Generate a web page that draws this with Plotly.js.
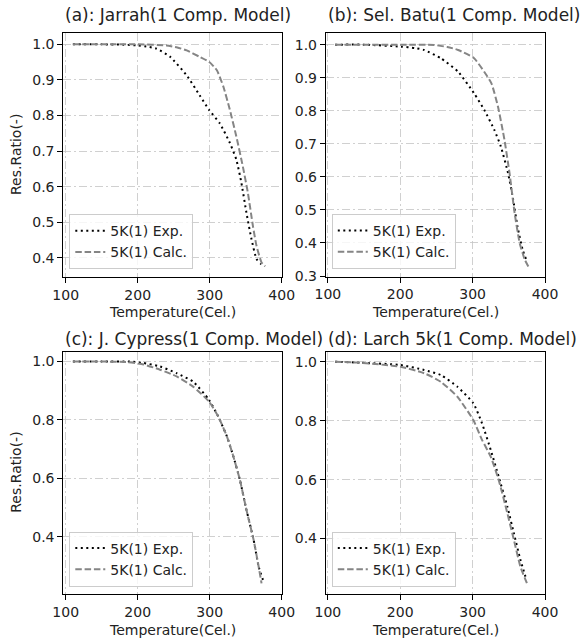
<!DOCTYPE html>
<html>
<head>
<meta charset="utf-8">
<script src="https://cdn.plot.ly/plotly-3.0.1.min.js"></script>
<style>html,body{margin:0;padding:0;background:#fff;}#chart{width:582px;height:639px;}</style>
</head>
<body>
<div id="chart"></div>
<script>
// ---- data ----
const panelTitles = [
  "(a): Jarrah(1 Comp. Model)",
  "(b): Sel. Batu(1 Comp. Model)",
  "(c): J. Cypress(1 Comp. Model)",
  "(d): Larch 5k(1 Comp. Model)"
];
const seriesNames = ["5K(1) Exp.", "5K(1) Calc."];
const xTitle = "Temperature(Cel.)";
const yTitle = "Res.Ratio(-)";
const xTickVals = [100, 200, 300, 400];

const aExpX  = [110, 150, 180, 200, 215, 226, 245, 268, 286, 299, 314, 328, 337, 344, 351, 358, 365, 371, 375];
const aExpY  = [1.0, 1.0, 0.999, 0.997, 0.993, 0.988, 0.965, 0.913, 0.857, 0.816, 0.778, 0.723, 0.676, 0.611, 0.527, 0.453, 0.397, 0.383, 0.376];
const aCalcX = [110, 150, 200, 240, 255, 268, 286, 299, 310, 319, 328, 337, 346, 353, 360, 365, 372, 377];
const aCalcY = [1.0, 1.0, 1.0, 0.997, 0.991, 0.983, 0.965, 0.951, 0.927, 0.881, 0.816, 0.741, 0.657, 0.583, 0.490, 0.434, 0.387, 0.376];

const bExpX  = [110, 150, 201, 220, 233, 256, 280, 302, 316, 330, 339, 349, 356, 362, 369, 374];
const bExpY  = [1.0, 1.0, 0.994, 0.990, 0.984, 0.959, 0.918, 0.853, 0.803, 0.742, 0.692, 0.611, 0.531, 0.450, 0.380, 0.350];
const bCalcX = [110, 150, 200, 247, 265, 280, 302, 316, 326, 335, 344, 351, 358, 365, 372, 377];
const bCalcY = [1.0, 1.0, 1.0, 0.999, 0.993, 0.984, 0.959, 0.918, 0.883, 0.813, 0.712, 0.611, 0.491, 0.400, 0.350, 0.329];

const cExpX  = [110, 150, 189, 208, 231, 254, 277, 299, 312, 324, 333, 342, 351, 361, 368, 374];
const cExpY  = [1.0, 1.0, 1.0, 0.995, 0.983, 0.960, 0.931, 0.869, 0.811, 0.743, 0.674, 0.594, 0.492, 0.389, 0.297, 0.252];
const cCalcX = [110, 150, 185, 208, 231, 254, 277, 299, 312, 324, 333, 342, 351, 361, 368, 372];
const cCalcY = [1.0, 1.0, 0.998, 0.990, 0.972, 0.949, 0.914, 0.863, 0.811, 0.743, 0.674, 0.594, 0.492, 0.389, 0.297, 0.240];

const dExpX  = [110, 141, 200, 233, 256, 279, 301, 313, 325, 336, 348, 357, 366, 373];
const dExpY  = [1.0, 0.997, 0.989, 0.972, 0.955, 0.915, 0.859, 0.791, 0.701, 0.610, 0.508, 0.418, 0.328, 0.271];
const dCalcX = [110, 141, 200, 233, 256, 279, 301, 313, 325, 336, 348, 357, 366, 375];
const dCalcY = [1.0, 0.997, 0.983, 0.961, 0.932, 0.881, 0.802, 0.735, 0.678, 0.599, 0.486, 0.396, 0.305, 0.249];

// ---- build ----
const W = 582, H = 639;
const FONT = "DejaVu Sans, sans-serif";
const panels = [
  {ex: aExpX, ey: aExpY, cx: aCalcX, cy: aCalcY},
  {ex: bExpX, ey: bExpY, cx: bCalcX, cy: bCalcY},
  {ex: cExpX, ey: cExpY, cx: cCalcX, cy: cCalcY},
  {ex: dExpX, ey: dExpY, cx: dCalcX, cy: dCalcY}
];
// pixel geometry of each axes box: [left, right, top, bottom]
const boxes = [
  [63.3, 281.7, 33.3, 276.7],
  [325.8, 545.0, 33.3, 276.5],
  [63.3, 281.7, 351.5, 594.0],
  [325.8, 545.0, 351.5, 594.0]
];
const titleY = [15, 15, 339, 339];
const xRanges = [[96.7, 400], [97.2, 400], [96.7, 400], [97.2, 400]];
const yRanges = [[0.347, 1.031], [0.2985, 1.0344], [0.2036, 1.0343], [0.212, 1.0346]];
const yTick0 = [0.4, 0.3, 0.4, 0.4];
const yDtick = [0.1, 0.1, 0.2, 0.2];

const traces = [];
const layout = {
  width: W, height: H,
  margin: {l: 0, r: 0, t: 0, b: 0},
  paper_bgcolor: "#fff", plot_bgcolor: "#fff",
  font: {family: FONT, size: 14, color: "#222"},
  showlegend: true,
  annotations: []
};

panels.forEach((p, i) => {
  const n = i + 1;
  const xa = n === 1 ? "x" : "x" + n;
  const ya = n === 1 ? "y" : "y" + n;
  const lg = n === 1 ? "legend" : "legend" + n;
  traces.push({
    x: p.ex, y: p.ey, xaxis: xa, yaxis: ya, legend: lg,
    type: "scatter", mode: "lines", name: seriesNames[0],
    line: {color: "#000", width: 2, dash: "2px,3.5px", shape: "spline", smoothing: 0.5}
  });
  traces.push({
    x: p.cx, y: p.cy, xaxis: xa, yaxis: ya, legend: lg,
    type: "scatter", mode: "lines", name: seriesNames[1],
    line: {color: "#858585", width: 2, dash: "6.5px,2.8px", shape: "spline", smoothing: 0.5}
  });
  const b = boxes[i];
  const common = {
    showline: true, linecolor: "#000", linewidth: 1, mirror: true,
    ticks: "outside", ticklen: 5, tickwidth: 1, tickcolor: "#000",
    showgrid: true, gridcolor: "#c4c4c4", gridwidth: 0.8, griddash: "8px,3px,2px,3px",
    zeroline: false, tickfont: {family: FONT, size: 14, color: "#222"}
  };
  layout["xaxis" + (n === 1 ? "" : n)] = Object.assign({}, common, {
    domain: [b[0] / W, b[1] / W], anchor: ya, range: xRanges[i],
    tickmode: "array", tickvals: xTickVals, ticktext: xTickVals.map(String)
  });
  layout["yaxis" + (n === 1 ? "" : n)] = Object.assign({}, common, {
    domain: [1 - b[3] / H, 1 - b[2] / H], anchor: xa, range: yRanges[i],
    tick0: yTick0[i], dtick: yDtick[i], tickformat: ".1f"
  });
  layout[lg] = {
    x: (b[0] + 6) / W, y: 1 - (b[3] - 7.5) / H, xanchor: "left", yanchor: "bottom",
    bgcolor: "rgba(255,255,255,0.8)", bordercolor: "#cccccc", borderwidth: 1,
    font: {family: FONT, size: 14, color: "#222"}, tracegroupgap: 0
  };
  // panel title (left aligned)
  layout.annotations.push({
    xref: "paper", yref: "paper", x: b[0] / W, y: 1 - titleY[i] / H,
    xanchor: "left", yanchor: "middle", showarrow: false, text: panelTitles[i],
    font: {family: FONT, size: 17, color: "#222"}
  });
  // x axis title
  layout.annotations.push({
    xref: "paper", yref: "paper", x: (b[0] + b[1]) / 2 / W, y: 1 - (b[3] + 35.5) / H,
    xanchor: "center", yanchor: "middle", showarrow: false, text: xTitle,
    font: {family: FONT, size: 14, color: "#222"}
  });
  if (i % 2 === 0) {
    layout.annotations.push({
      xref: "paper", yref: "paper", x: 16 / W, y: 1 - (b[2] + b[3]) / 2 / H,
      xanchor: "center", yanchor: "middle", showarrow: false, text: yTitle, textangle: -90,
      font: {family: FONT, size: 14, color: "#222"}
    });
  }
});

Plotly.newPlot("chart", traces, layout, {displayModeBar: false, staticPlot: true});
</script>
</body>
</html>
